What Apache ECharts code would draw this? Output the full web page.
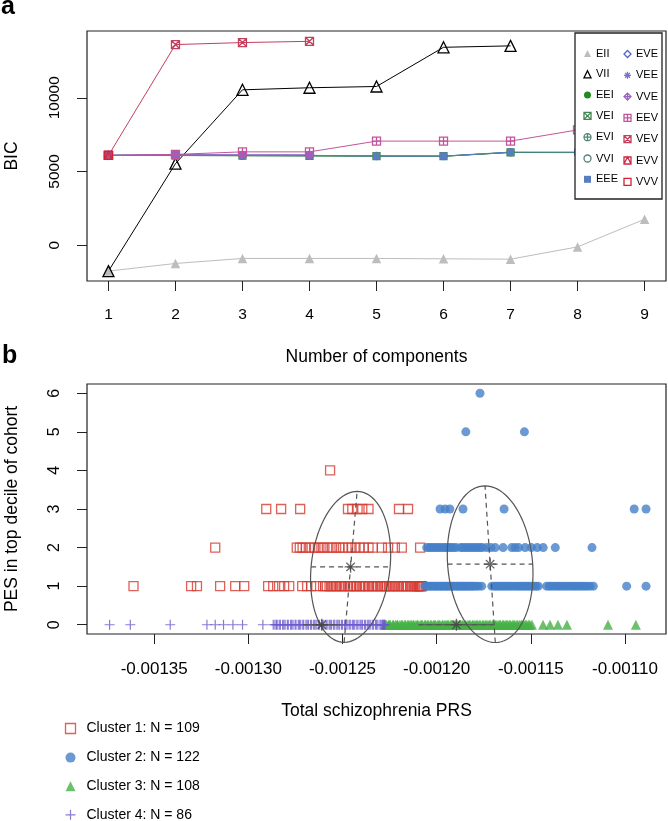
<!DOCTYPE html>
<html><head><meta charset="utf-8">
<script src="https://cdn.jsdelivr.net/npm/echarts@6/dist/echarts.min.js"></script>
<style>html,body{margin:0;padding:0;background:#fff}#c{width:668px;height:821px}</style>
</head><body><div id="c"></div>
<script>
const FONT = '"Liberation Sans", Arial, Helvetica, sans-serif';

// ---------- Panel a: BIC by number of components ----------
const components = [1, 2, 3, 4, 5, 6, 7, 8, 9];
const bicTicks = [0, 5000, 10000];
const modelNames = ['EII','VII','EEI','VEI','EVI','VVI','EEE','EVE','VEE','VVE','EEV','VEV','EVV','VVV'];
const bicEII = [-1760, -1240, -900, -900, -900, -925, -950, -115, 1760];
const bicVII = [-1760, 5530, 10540, 10680, 10765, 13425, 13520, null, null];
const bicEEI = [6090, 6080, 6070, 6060, 6040, 6030, 6290, 6280, 6270];
const bicVEI = [6090, 6085, 6075, 6065, 6045, 6035, 6295, null, null];
const bicEVI = [6090, 6090, 6080, 6070, 6050, 6040, 6300, null, null];
const bicVVI = [6090, 6095, 6085, 6075, null, null, null, null, null];
const bicEEE = [6090, 6120, 6095, 6095, 6046, 6046, 6317, 6317, 6300];
const bicEVE = [6090, 6110, 6100, 6100, null, null, null, null, null];
const bicVEE = [6090, 6120, 6110, 6110, null, null, null, null, null];
const bicVVE = [6090, 6130, 6120, 6120, null, null, null, null, null];
const bicEEV = [6090, 6160, 6330, 6330, 7060, 7060, 7060, 7820, 8300];
const bicVEV = [6090, 13610, 13745, 13830, null, null, null, null, null];
const bicEVV = [6090, null, null, null, null, null, null, null, null];
const bicVVV = [6090, null, null, null, null, null, null, null, null];

// ---------- Panel b: PES vs total schizophrenia PRS ----------
const prsTicks = [-0.00135, -0.00130, -0.00125, -0.00120, -0.00115, -0.00110];
const pesTicks = [0, 1, 2, 3, 4, 5, 6];
const clusterNames = ['Cluster 1: N = 109', 'Cluster 2: N = 122', 'Cluster 3: N = 108', 'Cluster 4: N = 86'];

// Cluster 1 (PRS values by PES level)
const c1Pes1 = [-0.0013610, -0.0013304, -0.0013273, -0.0013150, -0.0013070, -0.0013022, -0.0012895, -0.0012868,
  -0.0012837, -0.0012810, -0.0012783, -0.0012714, -0.0012688, -0.0012667, -0.0012640,
  -0.0012603, -0.0012592, -0.0012583, -0.0012569, -0.0012561, -0.0012549, -0.0012536, -0.0012529, -0.0012515, -0.0012507,
  -0.0012494, -0.0012488, -0.0012472, -0.0012461, -0.0012455, -0.0012441, -0.0012430, -0.0012424, -0.0012408, -0.0012399,
  -0.0012388, -0.0012379, -0.0012365, -0.0012359, -0.0012343, -0.0012336, -0.0012324, -0.0012313, -0.0012301, -0.0012292,
  -0.0012281, -0.0012271, -0.0012263, -0.0012250, -0.0012241, -0.0012230, -0.0012221, -0.0012209, -0.0012202, -0.0012189,
  -0.0012180, -0.0012171, -0.0012160, -0.0012153, -0.0012140, -0.0012134, -0.0012122, -0.0012116, -0.0012107, -0.0012101,
  -0.0012097, -0.0012093, -0.0012089, -0.0012085, -0.0012081, -0.0012078];
const c1Pes2 = [-0.0013176, -0.0012743, -0.0012727, -0.0012712, -0.0012694, -0.0012672, -0.0012651, -0.0012631, -0.0012612,
  -0.0012596, -0.0012575, -0.0012555, -0.0012534, -0.0012516, -0.0012497, -0.0012470, -0.0012452, -0.0012431, -0.0012410,
  -0.0012388, -0.0012362, -0.0012339, -0.0012291, -0.0012258, -0.0012222, -0.0012185, -0.0012088];
const c1Pes3 = [-0.0012905, -0.0012826, -0.0012725, -0.0012471, -0.0012448, -0.0012420, -0.0012395, -0.0012362, -0.0012200, -0.0012152];
const c1Pes4 = [-0.0012566];

// Cluster 2
const c2Pes1 = [-0.0012062, -0.0012051, -0.0012043, -0.0012032, -0.0012025, -0.0012014, -0.0012005, -0.0011997, -0.0011986, -0.0011978,
  -0.0011969, -0.0011958, -0.0011950, -0.0011941, -0.0011932, -0.0011921, -0.0011914, -0.0011905, -0.0011893, -0.0011886,
  -0.0011876, -0.0011868, -0.0011859, -0.0011850, -0.0011840, -0.0011832, -0.0011822, -0.0011812, -0.0011803, -0.0011790,
  -0.0011778, -0.0011761,
  -0.0011707, -0.0011694, -0.0011683, -0.0011671, -0.0011660, -0.0011648, -0.0011637, -0.0011625, -0.0011614, -0.0011603,
  -0.0011590, -0.0011578, -0.0011566, -0.0011555, -0.0011543, -0.0011532, -0.0011520, -0.0011509, -0.0011497, -0.0011485,
  -0.0011472, -0.0011460,
  -0.0011416, -0.0011402, -0.0011390, -0.0011376, -0.0011362, -0.0011350, -0.0011336, -0.0011322, -0.0011309, -0.0011295,
  -0.0011281, -0.0011268, -0.0011255, -0.0011241, -0.0011228, -0.0011214, -0.0011200, -0.0011185, -0.0011168,
  -0.0010991, -0.0010888];
const c2Pes2 = [-0.0012053, -0.0012040, -0.0012029, -0.0012017, -0.0012004, -0.0011993, -0.0011981, -0.0011968, -0.0011957, -0.0011945,
  -0.0011933, -0.0011921, -0.0011910, -0.0011896, -0.0011872, -0.0011860, -0.0011846, -0.0011834, -0.0011821, -0.0011808,
  -0.0011795, -0.0011783, -0.0011770, -0.0011757, -0.0011734, -0.0011712, -0.0011689, -0.0011647,
  -0.0011601, -0.0011583, -0.0011565, -0.0011530, -0.0011497, -0.0011466, -0.0011434, -0.0011370, -0.0011175];
const c2Pes3 = [-0.0011982, -0.0011955, -0.0011930, -0.0011860, -0.0011642, -0.0010951, -0.0010888];
const c2Pes5 = [-0.0011845, -0.0011534];
const c2Pes6 = [-0.0011770];

// Cluster 3 (all PES = 0)
const c3Pes0 = [-0.0012274, -0.0012268, -0.0012257, -0.0012251, -0.0012246, -0.0012233, -0.0012229, -0.0012218, -0.0012210, -0.0012207,
  -0.0012195, -0.0012186, -0.0012182, -0.0012170, -0.0012166, -0.0012155, -0.0012149, -0.0012141, -0.0012134, -0.0012125,
  -0.0012121, -0.0012110, -0.0012103, -0.0012099, -0.0012087, -0.0012080, -0.0012076, -0.0012064, -0.0012059, -0.0012050,
  -0.0012044, -0.0012033, -0.0012029, -0.0012018, -0.0012011, -0.0012006, -0.0011995, -0.0011988, -0.0011983, -0.0011971,
  -0.0011967, -0.0011957, -0.0011950, -0.0011942, -0.0011937, -0.0011926, -0.0011921, -0.0011912, -0.0011903, -0.0011898,
  -0.0011889, -0.0011880, -0.0011876, -0.0011865, -0.0011860, -0.0011849, -0.0011845, -0.0011834, -0.0011827, -0.0011822,
  -0.0011811, -0.0011806, -0.0011797, -0.0011789, -0.0011783, -0.0011774, -0.0011768, -0.0011757, -0.0011753, -0.0011743,
  -0.0011737, -0.0011728, -0.0011720, -0.0011715, -0.0011704, -0.0011699, -0.0011689, -0.0011684, -0.0011674, -0.0011666,
  -0.0011661, -0.0011650, -0.0011645, -0.0011636, -0.0011628, -0.0011622, -0.0011612, -0.0011607, -0.0011597, -0.0011590,
  -0.0011585, -0.0011574, -0.0011569, -0.0011559, -0.0011551, -0.0011546, -0.0011536, -0.0011528, -0.0011522, -0.0011512,
  -0.0011505, -0.0011494, -0.0011435, -0.0011398, -0.0011356, -0.0011308, -0.0011090, -0.0010942];

// Cluster 4 (all PES = 0)
const c4Pes0 = [-0.0013737, -0.0013627, -0.0013415, -0.0013220, -0.0013176, -0.0013132, -0.0013082, -0.0013031, -0.0012923,
  -0.0012868, -0.0012859, -0.0012851, -0.0012847, -0.0012836, -0.0012830, -0.0012818, -0.0012812, -0.0012805, -0.0012793,
  -0.0012788, -0.0012776, -0.0012770, -0.0012763, -0.0012752, -0.0012747, -0.0012735, -0.0012729, -0.0012722, -0.0012711,
  -0.0012706, -0.0012694, -0.0012688, -0.0012681, -0.0012670, -0.0012664, -0.0012653, -0.0012647, -0.0012640, -0.0012629,
  -0.0012623, -0.0012612, -0.0012606, -0.0012599, -0.0012588, -0.0012582, -0.0012571, -0.0012565, -0.0012558, -0.0012547,
  -0.0012541, -0.0012530, -0.0012524, -0.0012517, -0.0012506, -0.0012500, -0.0012489, -0.0012483, -0.0012476, -0.0012465,
  -0.0012459, -0.0012448, -0.0012442, -0.0012435, -0.0012424, -0.0012418, -0.0012407, -0.0012401, -0.0012394, -0.0012383,
  -0.0012377, -0.0012366, -0.0012360, -0.0012353, -0.0012342, -0.0012336, -0.0012325, -0.0012319, -0.0012312, -0.0012301,
  -0.0012296, -0.0012290, -0.0012287, -0.0012283, -0.0012280, -0.0012277, -0.0012274];

// Fitted cluster ellipses (centre, vertical and horizontal half-axis vectors)
const ellCenterPrs = [-0.0012457, -0.0011716, -0.0011895, -0.0012610];
const ellCenterPes = [1.50, 1.57, 0, 0];
const ellVertPrs = [3.45e-6, -2.73e-6, 0, 0];
const ellVertPes = [1.955, 2.03, 0, 0];
const ellHorizPrs = [2.1e-5, 2.26e-5, 2.04e-5, 1.0e-5];

// ---------- styles ----------
const modelStyle = {
  EII: {color: '#BDBDBD', symbol: 'triangle', size: 9.5, fill: true},
  VII: {color: '#000000', symbol: 'triangle', size: 11, fill: false},
  EEI: {color: '#218B21', symbol: 'circle', size: 6, fill: true},
  VEI: {color: '#41884F', symbol: 'path://M0,0H10V10H0Z M0,0L10,10 M10,0L0,10', size: 7, fill: false},
  EVI: {color: '#508476', symbol: 'path://M0,5A5,5 0 1 1 10,5A5,5 0 1 1 0,5Z M5,0V10 M0,5H10', size: 7, fill: false},
  VVI: {color: '#58807E', symbol: 'circle', size: 7, fill: false},
  EEE: {color: '#597DBF', symbol: 'rect', size: 7, fill: true},
  EVE: {color: '#5563C6', symbol: 'path://M5,0L10,5L5,10L0,5Z', size: 8, fill: false},
  VEE: {color: '#7470D0', symbol: 'path://M5,0V10 M0,5H10 M1.5,1.5L8.5,8.5 M8.5,1.5L1.5,8.5', size: 8, fill: false},
  VVE: {color: '#9A63C2', symbol: 'path://M5,0L10,5L5,10L0,5Z M5,0V10 M0,5H10', size: 8, fill: false},
  EEV: {color: '#C2549C', symbol: 'path://M0,0H10V10H0Z M5,0V10 M0,5H10', size: 8, fill: false},
  VEV: {color: '#C43F5E', symbol: 'path://M0,0H10V10H0Z M0,0L10,10 M10,0L0,10', size: 8, fill: false},
  EVV: {color: '#CC2A45', symbol: 'path://M0,0H10V10H0Z M0,10L5,0L10,10', size: 8, fill: false},
  VVV: {color: '#D82032', symbol: 'rect', size: 8, fill: false}
};
const bicValues = {EII: bicEII, VII: bicVII, EEI: bicEEI, VEI: bicVEI, EVI: bicEVI, VVI: bicVVI, EEE: bicEEE,
  EVE: bicEVE, VEE: bicVEE, VVE: bicVVE, EEV: bicEEV, VEV: bicVEV, EVV: bicEVV, VVV: bicVVV};

const clusterColors = ['#D43A2F', '#4580C8', '#46B246', '#6A5ACD'];
const plusPath = 'path://M4.4,0H5.6V4.4H10V5.6H5.6V10H4.4V5.6H0V4.4H4.4Z';
const starPath = 'path://M5,0V10 M0,5H10 M1.5,1.5L8.5,8.5 M8.5,1.5L1.5,8.5';

function itemStyleFor(st) {
  return st.fill ? {color: st.color} : {color: 'none', borderColor: st.color, borderWidth: 1.3};
}

const series = [];
modelNames.forEach(m => {
  const st = modelStyle[m];
  const vals = bicValues[m];
  const data = [];
  components.forEach((k, i) => { if (vals[i] !== null) data.push([k, vals[i]]); });
  series.push({
    name: m, type: 'line', xAxisIndex: 0, yAxisIndex: 0, data: data,
    symbol: st.symbol, symbolSize: st.size, showAllSymbol: true,
    lineStyle: {color: st.color, width: 1}, itemStyle: itemStyleFor(st),
    emphasis: {disabled: true}, z: 2
  });
});

function row(xs, y) { return xs.map(x => [x, y]); }
const clusterData = [
  [].concat(row(c1Pes1, 1), row(c1Pes2, 2), row(c1Pes3, 3), row(c1Pes4, 4)),
  [].concat(row(c2Pes1, 1), row(c2Pes2, 2), row(c2Pes3, 3), row(c2Pes5, 5), row(c2Pes6, 6)),
  row(c3Pes0, 0),
  row(c4Pes0, 0)
];
const clusterSymbols = ['rect', 'circle', 'triangle', plusPath];
const clusterSizes = [9, 9, 10, 10];
const clusterItemStyles = [
  {color: 'none', borderColor: clusterColors[0], borderWidth: 1.3},
  {color: clusterColors[1]},
  {color: clusterColors[2]},
  {color: clusterColors[3]}
];
clusterNames.forEach((nm, i) => {
  series.push({
    name: nm, type: 'scatter', xAxisIndex: 1, yAxisIndex: 1, data: clusterData[i],
    symbol: clusterSymbols[i], symbolSize: clusterSizes[i], symbolKeepAspect: true,
    itemStyle: clusterItemStyles[i], emphasis: {disabled: true}, z: 2
  });
});

// ellipses
ellCenterPrs.forEach((cx, i) => {
  const cy = ellCenterPes[i];
  const pts = [];
  for (let d = 0; d <= 360; d += 4) {
    const t = d * Math.PI / 180;
    pts.push([cx + Math.cos(t) * ellVertPrs[i] + Math.sin(t) * ellHorizPrs[i],
              cy + Math.cos(t) * ellVertPes[i]]);
  }
  series.push({type: 'line', xAxisIndex: 1, yAxisIndex: 1, data: pts, symbol: 'none', clip: false,
    lineStyle: {color: '#555', width: 1.2}, silent: true, z: 4});
  series.push({type: 'line', xAxisIndex: 1, yAxisIndex: 1,
    data: [[cx - ellVertPrs[i], cy - ellVertPes[i]], [cx + ellVertPrs[i], cy + ellVertPes[i]]],
    symbol: 'none', clip: false, lineStyle: {color: '#555', width: 1.2, type: [5, 4]}, silent: true, z: 4});
  series.push({type: 'line', xAxisIndex: 1, yAxisIndex: 1,
    data: [[cx - ellHorizPrs[i], cy], [cx + ellHorizPrs[i], cy]],
    symbol: 'none', clip: false, lineStyle: {color: '#555', width: 1.2, type: [5, 4]}, silent: true, z: 4});
});
series.push({type: 'scatter', xAxisIndex: 1, yAxisIndex: 1,
  data: ellCenterPrs.map((x, i) => [x, ellCenterPes[i]]),
  symbol: starPath, symbolSize: 12, itemStyle: {color: 'none', borderColor: '#444', borderWidth: 1.3},
  silent: true, z: 5});

function legendItems(names) {
  return names.map(m => ({name: m, icon: modelStyle[m].symbol, itemStyle: itemStyleFor(modelStyle[m])}));
}

const axisCommon = {
  axisLine: {show: false, onZero: false}, splitLine: {show: false},
  nameLocation: 'middle', nameTextStyle: {fontSize: 17.5, color: '#000', fontFamily: FONT}
};

const option = {
  animation: false,
  backgroundColor: '#fff',
  textStyle: {fontFamily: FONT},
  grid: [
    {left: 87, top: 31, width: 579, height: 250, show: true, borderColor: '#222', borderWidth: 1.2,
      containLabel: false, outerBoundsMode: 'none'},
    {left: 87, top: 384, width: 579, height: 250, show: true, borderColor: '#222', borderWidth: 1.2,
      containLabel: false, outerBoundsMode: 'none'}
  ],
  xAxis: [
    Object.assign({}, axisCommon, {type: 'value', gridIndex: 0, position: 'bottom', min: 0.68, max: 9.32,
      name: 'Number of components', nameGap: 67,
      axisTick: {show: true, length: 10, customValues: components, lineStyle: {color: '#222'}},
      axisLabel: {customValues: components, margin: 26, fontSize: 15.5, color: '#000', fontFamily: FONT,
        formatter: v => String(v)}}),
    Object.assign({}, axisCommon, {type: 'value', gridIndex: 1, position: 'bottom', min: -0.0013857, max: -0.0010782,
      name: 'Total schizophrenia PRS', nameGap: 68,
      axisTick: {show: true, length: 10, customValues: prsTicks, lineStyle: {color: '#222'}},
      axisLabel: {customValues: prsTicks, margin: 27, fontSize: 17, color: '#000', fontFamily: FONT,
        formatter: v => v.toFixed(5)}})
  ],
  yAxis: [
    Object.assign({}, axisCommon, {type: 'value', gridIndex: 0, position: 'left', min: -2430, max: 14530,
      name: 'BIC', nameGap: 66,
      axisTick: {show: true, length: 10, customValues: bicTicks, lineStyle: {color: '#222'}},
      axisLabel: {customValues: bicTicks, rotate: 90, margin: 24, fontSize: 15.5, color: '#000', fontFamily: FONT,
        formatter: v => String(v)}}),
    Object.assign({}, axisCommon, {type: 'value', gridIndex: 1, position: 'left', min: -0.24, max: 6.24,
      name: 'PES in top decile of cohort', nameGap: 66,
      axisTick: {show: true, length: 10, customValues: pesTicks, lineStyle: {color: '#222'}},
      axisLabel: {customValues: pesTicks, rotate: 90, margin: 24, fontSize: 16, color: '#000', fontFamily: FONT,
        formatter: v => String(v)}})
  ],
  legend: [
    {data: legendItems(modelNames.slice(0, 7)), orient: 'vertical', left: 581.5, top: 48, padding: 0,
      itemWidth: 7, itemHeight: 7, itemGap: 9.3, selectedMode: false, z: 12,
      textStyle: {fontSize: 11, color: '#000', fontFamily: FONT}},
    {data: legendItems(modelNames.slice(7)), orient: 'vertical', left: 621.5, top: 48, padding: 0,
      itemWidth: 7, itemHeight: 7, itemGap: 9.3, selectedMode: false, z: 12,
      textStyle: {fontSize: 11, color: '#000', fontFamily: FONT}},
    {data: clusterNames.map((nm, i) => ({name: nm, icon: clusterSymbols[i], itemStyle: clusterItemStyles[i]})),
      orient: 'vertical', left: 63, top: 721, height: 130, padding: 0, itemWidth: 10, itemHeight: 10, itemGap: 14.6,
      selectedMode: false, textStyle: {fontSize: 14, color: '#000', fontFamily: FONT, padding: [0, 0, 0, 6]}}
  ],
  graphic: [
    {type: 'rect', z: 10, shape: {x: 575, y: 33, width: 87, height: 166},
      style: {fill: '#fff', stroke: '#222', lineWidth: 1.3}},
    {type: 'text', z: 10, x: 1, y: -5, style: {text: 'a', font: 'bold 25px ' + FONT, fill: '#000'}},
    {type: 'text', z: 10, x: 2, y: 344, style: {text: 'b', font: 'bold 25px ' + FONT, fill: '#000'}}
  ],
  series: series
};

const chart = echarts.init(document.getElementById('c'), null, {renderer: 'canvas'});
chart.setOption(option);
</script>
</body></html>
